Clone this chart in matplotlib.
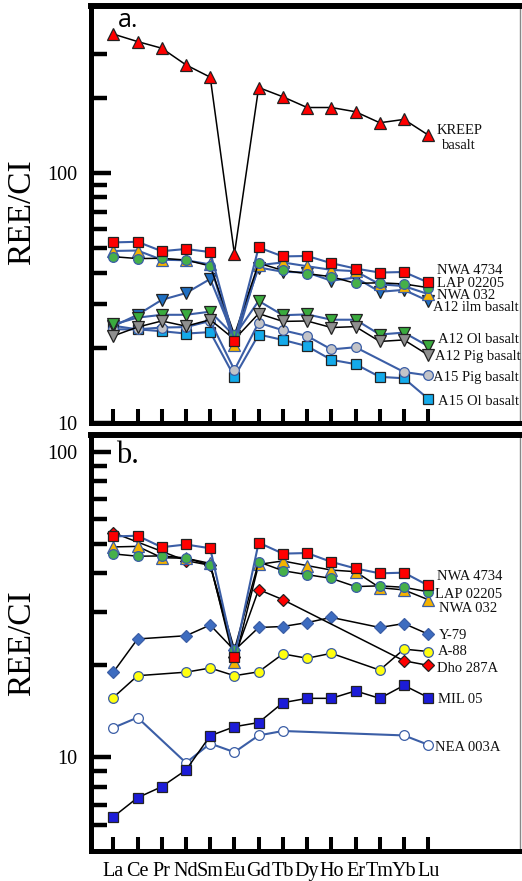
import numpy as np
import matplotlib
matplotlib.use("Agg")
import matplotlib.pyplot as plt
from matplotlib.ticker import FixedLocator, NullFormatter, FixedFormatter

nan = np.nan
elements = ["La", "Ce", "Pr", "Nd", "Sm", "Eu", "Gd", "Tb", "Dy", "Ho", "Er", "Tm", "Yb", "Lu"]

# ---- panel a ----
kreep = [360, 336, 316, 271, 242, 47.5, 220, 202, 183, 183, 176, 159, 164, 142]
nwa4734 = [52.8, 53.1, 48.7, 49.7, 48.3, 21.3, 50.4, 46.4, 46.6, 43.6, 41.5, 40.0, 40.2, 36.5]
lap02205 = [46.3, 45.5, 45.6, 44.9, 42.5, 22.5, 43.6, 40.8, 39.6, 38.5, 36.2, 36.4, 36.0, 34.8]
nwa032 = [48.8, 49.0, 45.0, 44.8, 43.1, 20.5, 42.8, 43.9, 42.4, 41.0, 40.5, 35.9, 35.3, 32.8]
a12_ilm = [24.4, 27.1, 31.1, 33.1, 37.7, 21.8, 41.9, 40.3, 40.0, 37.1, 38.2, 33.5, 34.1, 30.8]
a12_ol = [24.8, 26.4, 27.1, 27.1, 27.9, 22.3, 30.8, 27.0, 27.2, 25.9, 25.9, 22.6, 23.0, 20.3]
a12_pig = [22.3, 24.2, 25.6, 24.4, 25.9, 21.6, 27.4, 25.5, 25.6, 24.1, 24.3, 21.2, 21.5, 18.7]
a15_pig = [23.7, 23.7, 24.1, 24.2, 25.6, 16.3, 25.2, 23.5, 22.3, 19.7, 20.1, nan, 16.0, 15.5]
a15_ol = [24.5, 23.7, 23.3, 22.8, 23.1, 15.3, 22.6, 21.5, 20.3, 17.9, 17.2, 15.3, 15.1, 12.5]

# ---- panel b ----
y79 = [19.0, 24.4, nan, 25.0, 27.1, 22.4, 26.6, 26.8, 27.6, 28.7, nan, 26.6, 27.4, 25.3]
a88 = [15.7, 18.5, nan, 19.0, 19.6, 18.5, 19.05, 21.8, 21.1, 21.9, nan, 19.3, 22.6, 22.2]
dho287a = [54.3, nan, nan, 44.0, 42.5, 21.3, 35.4, 32.8, nan, nan, nan, nan, 20.7, 20.0]
mil05 = [6.39, 7.38, 8.02, 9.09, 11.77, 12.6, 13.0, 15.1, 15.6, 15.6, 16.5, 15.6, 17.2, 15.7]
nea003a = [12.5, 13.5, nan, 9.6, 11.1, 10.4, 11.8, 12.2, nan, nan, nan, nan, 11.8, 11.0]

BLUE = "#3b5ea6"
SERIF = ["Liberation Serif", "DejaVu Serif"]

# name, values, marker, face, edge, line color, ms, label x, label y
panel_a = [
    ("A15 Ol basalt", a15_ol, "s", "#14aaea", "#222222", BLUE, 7, 13.4, 12.2),
    ("A15 Pig basalt", a15_pig, "o", "#c2c3c8", BLUE, BLUE, 7, 13.2, 15.2),
    ("A12 ilm basalt", a12_ilm, "v", "#1f6fc2", "#222222", BLUE, 8, 13.2, 29.0),
    ("A12 Ol basalt", a12_ol, "v", "#3aab3e", "#222222", BLUE, 8, 13.4, 21.5),
    ("A12 Pig basalt", a12_pig, "v", "#8f8f8f", "#222222", "black", 8, 13.3, 18.4),
    ("NWA 032", nwa032, "^", "#f5b300", BLUE, BLUE, 8, 13.35, 32.5),
    ("LAP 02205", lap02205, "o", "#46b04a", BLUE, "black", 7, 13.35, 36.2),
    ("NWA 4734", nwa4734, "s", "#ff0000", "#222222", BLUE, 7, 13.35, 40.7),
    ("KREEP\nbasalt", kreep, "^", "#ff0000", "#222222", "black", 8, 14.28, 138),
]
panel_b = [
    ("NEA 003A", nea003a, "o", "white", BLUE, BLUE, 7, 13.3, 10.8),
    ("MIL 05", mil05, "s", "#1c1cd8", "#222222", "black", 7, 13.4, 15.5),
    ("A-88", a88, "o", "#ffff10", BLUE, "black", 7, 13.4, 22.2),
    ("Y-79", y79, "D", "#3d6cc0", BLUE, "black", 6, 13.45, 25.1),
    ("Dho 287A", dho287a, "D", "#ff0000", "#222222", "black", 6, 13.35, 19.5),
    ("NWA 032", nwa032, "^", "#f5b300", BLUE, "black", 8, 13.45, 30.8),
    ("LAP 02205", lap02205, "o", "#46b04a", BLUE, "black", 7, 13.3, 34.2),
    ("NWA 4734", nwa4734, "s", "#ff0000", "#222222", BLUE, 7, 13.35, 39.0),
]

fig = plt.figure(figsize=(5.22, 8.81), dpi=100)
W, H = 522.0, 881.0
left = 90.8 / W
width = (520 - 90.8) / W
ax1 = fig.add_axes([left, 1 - 423 / H, width, (423 - 6.3) / H])
ax2 = fig.add_axes([left, 1 - 851.3 / H, width, (851.3 - 434.5) / H])

x_all = np.arange(len(elements))


def draw(ax, specs):
    for name, vals, mk, fc, ec, lc, ms, lx, ly in specs:
        v = np.array(vals, dtype=float)
        m = ~np.isnan(v)
        lw = 1.5 if lc == BLUE else 1.1
        ax.plot(x_all[m], v[m], color=lc, lw=lw, marker=mk, ms=ms,
                markerfacecolor=fc, markeredgecolor=ec, markeredgewidth=0.9, zorder=3)
        ha = "center" if "\n" in name else "left"
        ax.text(lx, ly, name, ha=ha, va="center", fontsize=10.5, family=SERIF,
                color="#111111", linespacing=1.25, zorder=4)


draw(ax1, panel_a)
draw(ax2, panel_b)

for ax, ylim, minors in [
    (ax1, (10, 465), [20, 30, 40, 50, 60, 70, 80, 90, 200, 300]),
    (ax2, (4.93, 113.8), [6, 7, 8, 9, 20, 30, 40, 50, 60, 70, 80, 90]),
]:
    ax.set_yscale("log")
    ax.set_ylim(*ylim)
    ax.set_xlim(-0.93, 16.79)
    ax.yaxis.set_major_locator(FixedLocator([10, 100]))
    ax.yaxis.set_major_formatter(FixedFormatter(["10", "100"]))
    ax.yaxis.set_minor_locator(FixedLocator(minors))
    ax.yaxis.set_minor_formatter(NullFormatter())
    ax.set_xticks(x_all)
    ax.tick_params(axis="y", which="major", direction="in", length=14.5, width=3.2,
                   pad=10, labelsize=14.5)
    ax.tick_params(axis="y", which="minor", direction="in", length=11.5, width=3.2)
    ax.tick_params(axis="x", which="major", direction="in", length=10, width=2.9,
                   pad=8, labelsize=14.5)
    ax.tick_params(axis="x", which="minor", length=0)
    for lab in ax.get_yticklabels() + ax.get_xticklabels():
        lab.set_family(SERIF)
    for s in ("left", "bottom"):
        ax.spines[s].set_linewidth(3.6)
        ax.spines[s].set_color("black")
    ax.spines["top"].set_linewidth(4.3)
    ax.spines["top"].set_color("black")
    ax.spines["right"].set_linewidth(1.0)
    ax.spines["right"].set_color("#888888")

ax1.set_xticklabels([])
ax2.set_xticklabels(elements)
for lab in ax2.get_xticklabels():
    lab.set_family(SERIF)

ax1.text(0.063, 0.95, "a.", transform=ax1.transAxes, fontsize=18,
         family=["Open Sans", "DejaVu Sans"], va="baseline", ha="left")
ax2.text(0.058, 0.931, "b.", transform=ax2.transAxes, fontsize=22,
         family=SERIF, va="baseline", ha="left")

fig.text(21.5 / W, 1 - 212 / H, "REE/CI", rotation=90, ha="center", va="center",
         fontsize=24, family=SERIF)
fig.text(21.5 / W, 1 - 643 / H, "REE/CI", rotation=90, ha="center", va="center",
         fontsize=24, family=SERIF)

fig.savefig("out.png", dpi=100)
